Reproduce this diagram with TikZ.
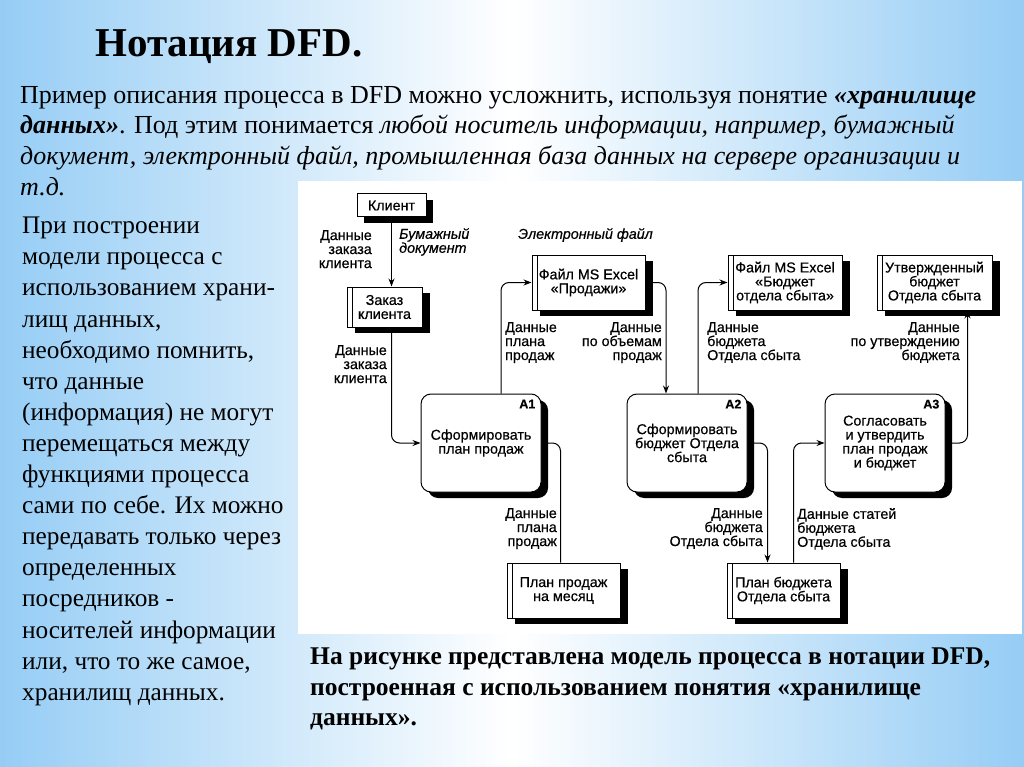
\documentclass[tikz,border=0pt]{standalone}
\usepackage{fontspec}
\setmainfont{Liberation Serif}
\newfontfamily\diafont[FakeBold=0.5]{Liberation Sans}
\usetikzlibrary{arrows.meta, positioning, calc, shadows}
\definecolor{slideblue}{RGB}{150,205,245}
\setlength{\lineskiplimit}{-30pt}

\begin{document}
\begin{tikzpicture}[
  x=1pt, y=-1pt,
  >={Stealth[length=8pt, width=6pt]},
  txt/.style={align=left, inner sep=0pt, font=\fontsize{26}{30.7}\selectfont},
  dfd/.style={font=\diafont\fontsize{14.3}{14}\selectfont},
  lbl/.style={dfd, inner sep=0pt},
  ent/.style={dfd, draw, line width=1pt, fill=white, inner sep=2pt,
              minimum width=69pt, minimum height=23pt,
              drop shadow={shadow xshift=7pt, shadow yshift=-6pt, opacity=1, fill=black}},
  store/.style={dfd, draw, line width=1pt, fill=white, align=center,
                inner sep=2pt, minimum height=55pt, minimum width=113pt,
                drop shadow={shadow xshift=8pt, shadow yshift=-6pt, opacity=1, fill=black},
                path picture={\draw ([xshift=5pt]path picture bounding box.north west)
                  -- ([xshift=5pt]path picture bounding box.south west);}},
  proc/.style={dfd, draw, line width=1pt, fill=white, align=center,
               rounded corners=10pt, minimum width=120pt, minimum height=98pt,
               drop shadow={shadow xshift=7pt, shadow yshift=-6pt, opacity=1, fill=black}},
  num/.style={font=\diafont\bfseries\fontsize{12.5}{12.5}\selectfont, inner sep=0pt,
              anchor=north east, xshift=-6pt, yshift=-6pt},
  flow/.style={line width=1pt, rounded corners=8pt}]

\useasboundingbox (0,0) rectangle (1024,767);
\shade[left color=slideblue, right color=slideblue, middle color=white] (0,0) rectangle (1024,767);
\fill[white] (298,181) rectangle (1022,634);

\node[anchor=base west, inner sep=0pt, font=\bfseries\fontsize{41}{45}\selectfont] (title) at (95,57) {Нотация DFD.};
\node[txt, anchor=north west] (intro) at (20,86)
  {Пример описания процесса в DFD можно усложнить, используя понятие \textbf{\textit{«хранилище}}\\
   \textbf{\textit{данных»}}. Под этим понимается \textit{любой носитель информации, например, бумажный}\\
   \textit{документ, электронный файл, промышленная база данных на сервере организации и}\\
   \textit{т.д.}};
\node[txt, anchor=north west, font=\fontsize{25.3}{31.1}\selectfont] (side) at (22,217)
  {При построении\\ модели процесса с\\ использованием храни-\\ лищ данных,\\
   необходимо помнить,\\ что данные\\ (информация) не могут\\ перемещаться между\\
   функциями процесса\\ сами по себе. Их можно\\ передавать только через\\ определенных\\
   посредников -\\ носителей информации\\ или, что то же самое,\\ хранилищ данных.};
\node[txt, anchor=north west, font=\bfseries\fontsize{25.5}{30.5}\selectfont] (caption) at (310,648)
  {На рисунке представлена модель процесса в нотации DFD,\\
   построенная с использованием понятия «хранилище\\ данных».};

\node[ent] (klient) at (391.5,205.5) {Клиент};
\node[store, minimum width=75pt, minimum height=40pt] (zakaz) at (384.5,307) {Заказ\\ клиента};
\node[store] (sales) at (588.5,282.5) {Файл MS Excel\\ «Продажи»};
\node[store, minimum width=114pt] (budget) at (785,282.5) {Файл MS Excel\\ «Бюджет\\ отдела сбыта»};
\node[store, minimum width=115pt] (approved) at (934.5,282.5) {Утвержденный\\ бюджет\\ Отдела сбыта};
\node[store] (month) at (563.5,590.5) {План продаж\\ на месяц};
\node[store] (plan) at (783.5,590.5) {План бюджета\\ Отдела сбыта};

\node[proc, label={[num]north east:A1}] (A1) at (481,443) {Сформировать\\ план продаж};
\node[proc, label={[num]north east:A2}] (A2) at (687,443) {Сформировать\\ бюджет Отдела\\ сбыта};
\node[proc, label={[num]north east:A3}] (A3) at (885,443) {Согласовать\\ и утвердить\\ план продаж\\ и бюджет};

\draw[flow, ->] (klient) -- (klient.south |- zakaz.north);
\draw[flow, ->] (klient.south |- zakaz.south) |- (A1.west);
\draw[flow, ->] ([xshift=20pt]A1.north) |- (sales.west);
\draw[flow, ->] (sales.east) -| ([xshift=-21pt]A2.north);
\draw[flow, ->] ([xshift=11pt]A2.north) |- (budget.west);
\draw[flow, ->] (A3.east) -| ([xshift=33pt]approved.south);
\draw[flow] (A1.east) -| ([xshift=-3pt]month.north);
\draw[flow, ->] (A2.east) -| ([xshift=-16pt]plan.north);
\draw[flow, ->] ([xshift=10pt]plan.north) |- (A3.west);

\node[lbl, align=right, anchor=north east] (l1) at (372,230) {Данные\\ заказа\\ клиента};
\node[lbl, align=left, anchor=north west, font=\diafont\itshape\fontsize{14.3}{14}\selectfont] (l2) at (399,228) {Бумажный\\ документ};
\node[lbl, align=right, anchor=north east] (l3) at (387,345) {Данные\\ заказа\\ клиента};
\node[lbl, align=left, anchor=north west] (l4) at (505,322) {Данные\\ плана\\ продаж};
\node[lbl, align=right, anchor=north east] (l5) at (662,322) {Данные\\ по объемам\\ продаж};
\node[lbl, align=left, anchor=north west] (l6) at (707,322) {Данные\\ бюджета\\ Отдела сбыта};
\node[lbl, align=right, anchor=north east] (l7) at (960,322) {Данные\\ по утверждению\\ бюджета};
\node[lbl, align=right, anchor=north east] (l8) at (557,508) {Данные\\ плана\\ продаж};
\node[lbl, align=right, anchor=north east] (l9) at (763,508) {Данные\\ бюджета\\ Отдела сбыта};
\node[lbl, align=left, anchor=north west] (l10) at (797,508) {Данные статей\\ бюджета\\ Отдела сбыта};
\node[lbl, anchor=west, font=\diafont\itshape\fontsize{14.3}{14}\selectfont] (efile) at (518,235) {Электронный файл};
\end{tikzpicture}
\end{document}
